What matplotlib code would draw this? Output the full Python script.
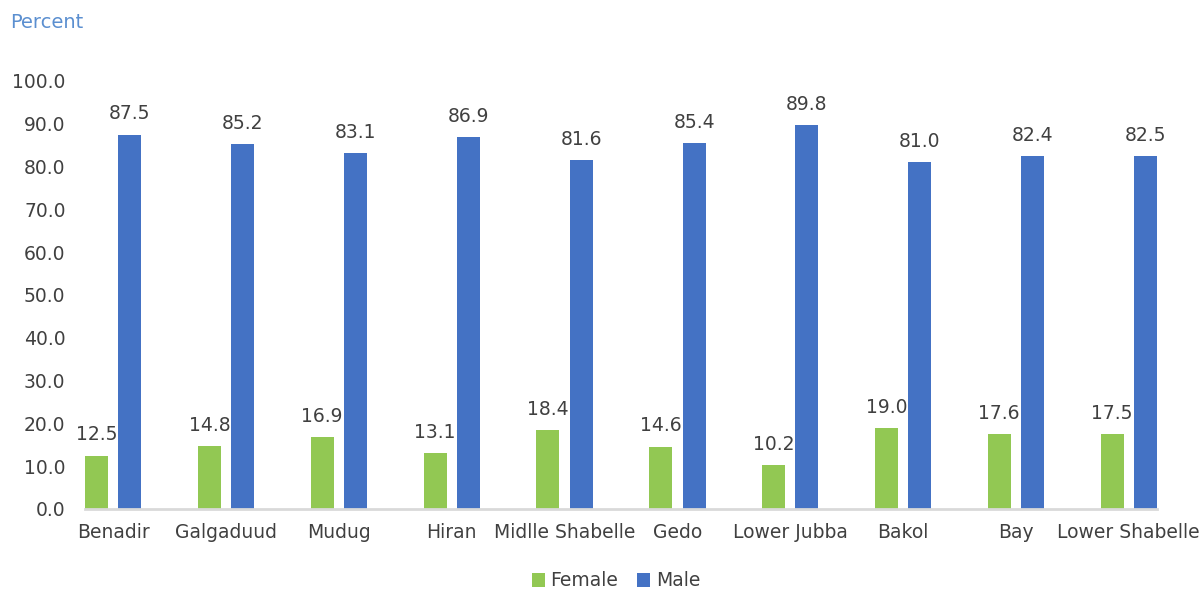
import matplotlib
matplotlib.use("Agg")
import matplotlib.pyplot as plt
import numpy as np

# Share of employment by sex and region
regions = ["Benadir", "Galgaduud", "Mudug", "Hiran", "Midlle Shabelle",
           "Gedo", "Lower Jubba", "Bakol", "Bay", "Lower Shabelle"]
female = [12.5, 14.8, 16.9, 13.1, 18.4, 14.6, 10.2, 19.0, 17.6, 17.5]
male = [87.5, 85.2, 83.1, 86.9, 81.6, 85.4, 89.8, 81.0, 82.4, 82.5]
y_ticks = [0, 10, 20, 30, 40, 50, 60, 70, 80, 90, 100]

GREEN = "#92C853"
BLUE = "#4472C4"
TEXT = "#404040"
FS = 13.5

plt.rcParams["font.family"] = ["DejaVu Sans"]

fig = plt.figure(figsize=(12.03, 5.90), dpi=100)
ax = fig.add_axes([85 / 1203, 1 - 509 / 590, 1072 / 1203, 428 / 590])

x = np.arange(len(regions))
w = 0.204
off = 0.148
b1 = ax.bar(x - off, female, w, color=GREEN, label="Female", zorder=2)
b2 = ax.bar(x + off, male, w, color=BLUE, label="Male", zorder=2)

for bars, vals in ((b1, female), (b2, male)):
    for rect, v in zip(bars, vals):
        ax.annotate(f"{v:.1f}", (rect.get_x() + rect.get_width() / 2, v),
                    xytext=(0, 8), textcoords="offset points",
                    ha="center", va="bottom", fontsize=FS, color=TEXT,
                    annotation_clip=False)

ax.set_xlim(-off - w / 2, len(regions) - 1 + off + w / 2)
ax.set_ylim(0, 100)
ax.set_yticks(y_ticks)
ax.set_yticklabels([f"{t:.1f}" for t in y_ticks])
ax.set_xticks(x)
ax.set_xticklabels(regions)
ax.tick_params(axis="both", length=0, labelsize=FS, colors=TEXT)
ax.tick_params(axis="y", pad=14)
ax.tick_params(axis="x", pad=10)

for s in ("top", "right", "left"):
    ax.spines[s].set_visible(False)
ax.spines["bottom"].set_color("#D9D9D9")
ax.spines["bottom"].set_linewidth(2)

fig.text(10 / 1203, 1 - 22 / 590, "Percent", color="#5B8FD0",
         fontsize=14, ha="left", va="center")

fig.legend(handles=[b1, b2], loc="center", bbox_to_anchor=(616 / 1203, 1 - 581 / 590),
           ncol=2, frameon=False, fontsize=FS, handlelength=0.7, handleheight=0.7,
           handletextpad=0.3, columnspacing=1.0, labelcolor=TEXT)

fig.savefig("out.png", dpi=100)
